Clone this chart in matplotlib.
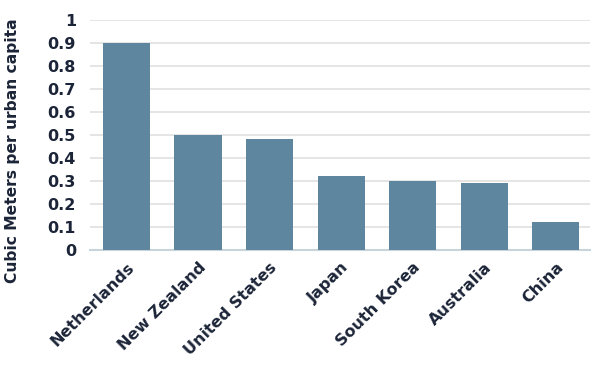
import matplotlib.pyplot as plt
import numpy as np

countries = ['Netherlands', 'New Zealand', 'United States', 'Japan',
             'South Korea', 'Australia', 'China']
values = [0.90, 0.50, 0.48, 0.32, 0.30, 0.29, 0.12]
yticks = [0, 0.1, 0.2, 0.3, 0.4, 0.5, 0.6, 0.7, 0.8, 0.9, 1]
ytick_labels = ['0', '0.1', '0.2', '0.3', '0.4', '0.5', '0.6', '0.7', '0.8', '0.9', '1']

plt.rcParams['font.family'] = ['DejaVu Sans']
text_c = '#1c2538'

fig = plt.figure(figsize=(6.04, 3.68), dpi=100)
ax = fig.add_axes([0.149, 0.321, 0.828, 0.625])

x = np.arange(len(countries))
ax.bar(x, values, width=0.66, color='#5e869e', zorder=3)

ax.set_xlim(-0.51, 6.48)
ax.set_ylim(0, 1)
ax.set_yticks(yticks)
ax.set_yticklabels(ytick_labels, fontsize=11.5, fontweight='bold', color=text_c)
ax.set_xticks(x)
ax.set_xticklabels(countries, rotation=45, ha='right', rotation_mode='anchor',
                   fontsize=11.5, fontweight='bold', color=text_c)
ax.tick_params(axis='y', length=0, pad=10)
ax.tick_params(axis='x', length=0, pad=7)

ax.grid(axis='y', color='#e0e0e0', linewidth=1.2, zorder=0)
for s in ['top', 'right', 'left']:
    ax.spines[s].set_visible(False)
ax.spines['bottom'].set_color('#c8d3dc')
ax.spines['bottom'].set_linewidth(1.5)

ax.set_ylabel('Cubic Meters per urban capita', fontsize=11.2, fontweight='bold',
              color=text_c)
ax.yaxis.set_label_coords(-0.14, 0.43)

fig.savefig('out.png', dpi=100)
